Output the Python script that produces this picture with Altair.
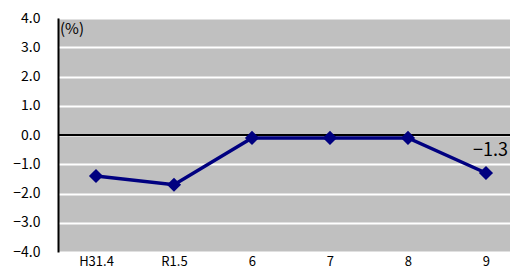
import json
import altair as alt
import pandas as pd

categories = ["H31.4", "R1.5", "6", "7", "8", "9"]
values = [-1.4, -1.7, -0.1, -0.1, -0.1, -1.3]
y_ticks = [-4, -3, -2, -1, 0, 1, 2, 3, 4]

FONT = "Noto Sans CJK JP"
NAVY = "#000080"

df = pd.DataFrame({"idx": list(range(len(categories))), "cat": categories, "val": values})

x = alt.X(
    "idx:Q",
    scale=alt.Scale(domain=[-0.487, 5.308], nice=False, zero=False),
    axis=alt.Axis(title=None, values=list(range(len(categories))),
                  labelExpr=json.dumps(categories) + "[datum.value]",
                  labelAngle=0, domain=False, ticks=False, grid=False, labelOverlap=False,
                  labelFont=FONT, labelFontSize=13, labelColor="#000", labelPadding=3),
)
yscale = alt.Scale(domain=[-4, 4], nice=False, zero=False)
y = alt.Y(
    "val:Q",
    scale=yscale,
    axis=alt.Axis(values=y_ticks, format=".1f",
                  labelExpr="replace(datum.label, '-', '−')",
                  labelOverlap=False,
                  title=None, grid=True, gridColor="white", gridWidth=2,
                  domainColor="black", domainWidth=2, ticks=False,
                  labelPadding=18, labelFont=FONT, labelFontSize=14, labelColor="#000"),
)

base = alt.Chart(df)

zero = alt.Chart(pd.DataFrame({"val": [0]})).mark_rule(color="black", strokeWidth=2).encode(y=y)

line = base.mark_line(color=NAVY, strokeWidth=3.5).encode(x=x, y=y)

pts = base.mark_point(shape="diamond", filled=True, size=200, color=NAVY, opacity=1).encode(x=x, y=y)

last = base.transform_filter(alt.datum.cat == categories[-1]).transform_calculate(
    lab="replace(format(datum.val, '.1f'), '-', '−')"
).mark_text(align="right", baseline="middle", dx=22, dy=-22, font=FONT, fontSize=18, color="#000").encode(
    x=x, y=y, text="lab:N"
)

unit = alt.Chart(pd.DataFrame({"t": ["(%)"]})).mark_text(
    align="left", baseline="middle", font=FONT, fontSize=15, color="#000"
).encode(x=alt.value(2), y=alt.value(11), text="t:N")

chart = alt.layer(zero, line, pts, last, unit).properties(
    width=452, height=234,
    autosize=alt.AutoSizeParams(type="none"),
    padding={"left": 50, "top": 10, "right": 0, "bottom": 16},
).configure_view(fill="#C0C0C0", strokeWidth=0)

chart.save("out.html", embed_options={"renderer": "svg", "actions": False})
